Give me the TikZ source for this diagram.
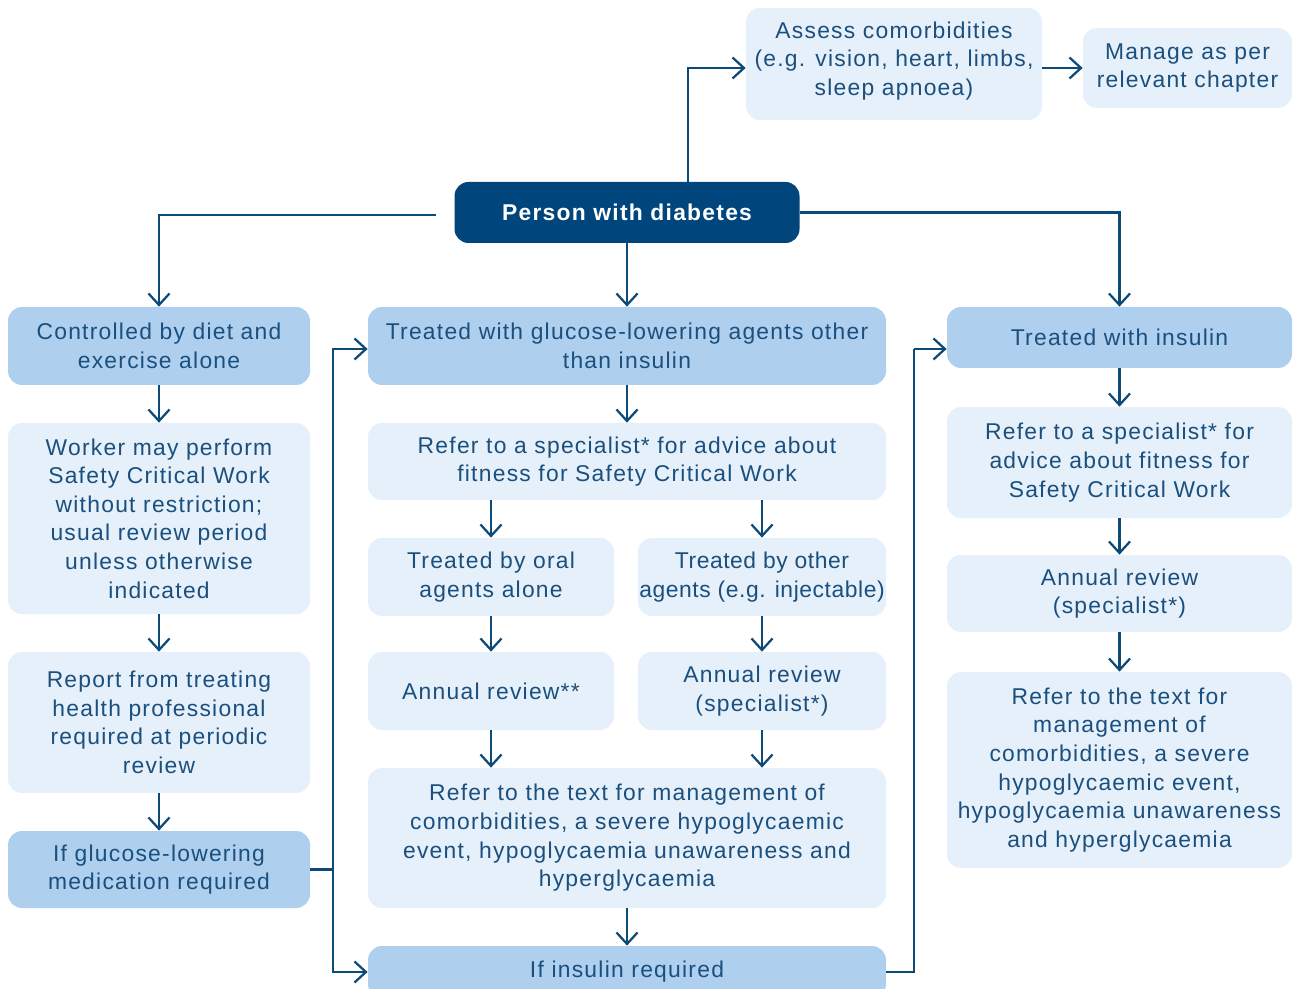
\documentclass[tikz,border=0pt]{standalone}
\usepackage{fontspec}
\setmainfont[LetterSpace=5.5]{Liberation Sans}
\usepackage{tikz}
\usepackage{xcolor}
\usetikzlibrary{positioning}
\usetikzlibrary{arrows.meta}

\definecolor{darkblue}{HTML}{00457C}
\definecolor{midblue}{HTML}{AECFEE}
\definecolor{paleblue}{HTML}{E5F0FA}
\definecolor{textblue}{HTML}{1A4F7E}
\definecolor{lineblue}{HTML}{0D4A78}

\tikzset{
  wh/.style 2 args={minimum width=#1*0.02cm, minimum height=#2*0.02cm},
  basebox/.style={rounded corners=0.28cm, inner sep=0pt, align=center,
    font=\fontsize{13}{16.3}\selectfont},
  darkbox/.style={basebox, fill=darkblue, text=white,
    font=\fontsize{13}{16.3}\selectfont\bfseries},
  midbox/.style={basebox, fill=midblue, text=textblue},
  palebox/.style={basebox, fill=paleblue, text=textblue},
  arr/.style={draw=lineblue, line width=0.045cm,
    -{Straight Barb[length=0.23cm, width=0.42cm]}},
  wire/.style={draw=lineblue, line width=0.045cm}
}

\begin{document}
\begin{tikzpicture}[x=0.02cm, y=-0.02cm]

\useasboundingbox (0,0) rectangle (1294,989);
\clip (0,0) rectangle (1294,989);

% top
\node (person) at (627,212.5) [darkbox, wh={345}{61}] {Person with diabetes};
\node (assess) at (894,64) [palebox, wh={296}{112}] {Assess comorbidities\\(e.g. vision, heart, limbs,\\sleep apnoea)\vspace{0.12cm}};
\node (manage) at (1187.5,68) [palebox, wh={209}{80}] {Manage as per\\relevant chapter};

% left column
\node (ctrl) at (159,346) [midbox, wh={302}{78}] {Controlled by diet and\\exercise alone};
\node (worker) at (159,518.5) [palebox, wh={302}{191}] {Worker may perform\\Safety Critical Work\\without restriction;\\usual review period\\unless otherwise\\indicated};
\node (report) at (159,722.5) [palebox, wh={302}{141}] {Report from treating\\health professional\\required at periodic\\review};
\node (ifglu) at (159,869.5) [midbox, wh={302}{77}] {If glucose-lowering\\medication required};

% middle column
\node (glow) at (627,346) [midbox, wh={518}{78}] {Treated with glucose-lowering agents other\\than insulin};
\node (refer) at (627,461.5) [palebox, wh={518}{77}] {Refer to a specialist* for advice about\\fitness for Safety Critical Work};
\node (oral) at (491,577) [palebox, wh={246}{78}] {Treated by oral\\agents alone};
\node (other) at (762,577) [palebox, wh={248}{78},
  font=\fontsize{13}{16.3}\selectfont\addfontfeature{LetterSpace=2.5}] {Treated by other\\agents (e.g. injectable)};
\node (annA) at (491,691) [palebox, wh={246}{78}] {Annual review**};
\node (annB) at (762,691) [palebox, wh={248}{78}] {Annual review\\(specialist*)};
\node (mgmt) at (627,838) [palebox, wh={518}{140}] {Refer to the text for management of\\comorbidities, a severe hypoglycaemic\\event, hypoglycaemia unawareness and\\hyperglycaemia};
\node (ifins) at (627,972) [midbox, wh={518}{52}] {If insulin required};

% right column
\node (insul) at (1119.5,337.5) [midbox, wh={345}{61}] {Treated with insulin};
\node (referR) at (1119.5,462.5) [palebox, wh={345}{111}] {Refer to a specialist* for\\advice about fitness for\\Safety Critical Work};
\node (annR) at (1119.5,593.5) [palebox, wh={345}{77}] {Annual review\\(specialist*)};
\node (mgmtR) at (1119.5,770) [palebox, wh={345}{196}] {Refer to the text for\\management of\\comorbidities, a severe\\hypoglycaemic event,\\hypoglycaemia unawareness\\and hyperglycaemia};

\coordinate (jL) at (333,869.5);
\coordinate (jR) at (914,349);

% connectors from the top
\draw[arr] ([xshift=1.22cm]person.north) |- ([yshift=-0.08cm]assess.west);
\draw[arr] (manage.west -| assess.east) -- (manage.west);
\draw[arr] ([xshift=-0.36cm,yshift=-0.05cm]person.west) -| (ctrl.north);
\draw[arr] (person.south) -- (glow.north);
\draw[arr] (person.east) -| (insul.north);

% down the columns
\draw[arr] (ctrl) -- (worker);
\draw[arr] (worker) -- (report);
\draw[arr] (report) -- (ifglu);
\draw[arr] (glow) -- (refer);
\draw[arr] (oral.north |- refer.south) -- (oral.north);
\draw[arr] (other.north |- refer.south) -- (other.north);
\draw[arr] (oral) -- (annA);
\draw[arr] (other) -- (annB);
\draw[arr] (annA.south) -- (annA.south |- mgmt.north);
\draw[arr] (annB.south) -- (annB.south |- mgmt.north);
\draw[arr] (mgmt) -- (ifins);
\draw[arr] (insul) -- (referR);
\draw[arr] (referR) -- (annR);
\draw[arr] (annR) -- (mgmtR);

% cross links
\draw[wire] (ifglu.east) -- (jL);
\draw[arr] (jL) |- ([yshift=-0.06cm]glow.west);
\draw[arr] (jL) |- (ifins.west);
\draw[wire] (ifins.east) -| (jR);
\draw[arr] (jR) -- (insul.west |- jR);

\end{tikzpicture}
\end{document}
